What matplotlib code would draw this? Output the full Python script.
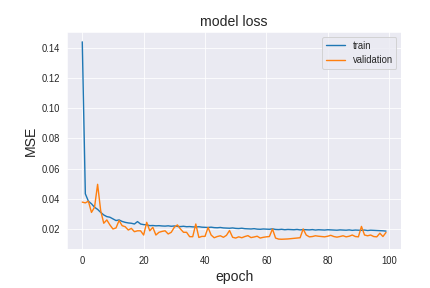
import matplotlib
matplotlib.use("Agg")
import matplotlib.pyplot as plt
import seaborn as sns

# loss per epoch
train = [0.1440, 0.0433, 0.0384, 0.0367, 0.0344, 0.0330, 0.0310, 0.0293, 0.0282, 0.0278,
         0.0267, 0.0256, 0.0260, 0.0250, 0.0244, 0.0240, 0.0238, 0.0233, 0.0249, 0.0233,
         0.0229, 0.0228, 0.0222, 0.0223, 0.0221, 0.0222, 0.0220, 0.0219, 0.0221, 0.0218,
         0.0220, 0.0217, 0.0216, 0.0218, 0.0215, 0.0216, 0.0214, 0.0213, 0.0215, 0.0212,
         0.0211, 0.0210, 0.0212, 0.0209, 0.0208, 0.0210, 0.0207, 0.0206, 0.0205, 0.0207,
         0.0204, 0.0203, 0.0205, 0.0202, 0.0201, 0.0200, 0.0202, 0.0199, 0.0198, 0.0200,
         0.0199, 0.0198, 0.0201, 0.0197, 0.0196, 0.0198, 0.0195, 0.0197, 0.0196, 0.0195,
         0.0197, 0.0194, 0.0196, 0.0195, 0.0194, 0.0196, 0.0193, 0.0195, 0.0194, 0.0193,
         0.0195, 0.0194, 0.0193, 0.0192, 0.0194, 0.0193, 0.0192, 0.0194, 0.0191, 0.0193,
         0.0192, 0.0191, 0.0193, 0.0190, 0.0192, 0.0191, 0.0190, 0.0189, 0.0188, 0.0186]
validation = [0.0378, 0.0373, 0.0384, 0.0310, 0.0344, 0.0496, 0.0322, 0.0238, 0.0260, 0.0227,
              0.0200, 0.0207, 0.0256, 0.0222, 0.0215, 0.0193, 0.0204, 0.0182, 0.0188, 0.0188,
              0.0160, 0.0244, 0.0188, 0.0211, 0.0160, 0.0178, 0.0184, 0.0188, 0.0167, 0.0178,
              0.0211, 0.0227, 0.0200, 0.0178, 0.0178, 0.0149, 0.0149, 0.0233, 0.0144, 0.0151,
              0.0151, 0.0210, 0.0160, 0.0142, 0.0150, 0.0155, 0.0145, 0.0158, 0.0190, 0.0145,
              0.0140, 0.0148, 0.0142, 0.0150, 0.0156, 0.0143, 0.0147, 0.0152, 0.0140, 0.0145,
              0.0148, 0.0150, 0.0200, 0.0140, 0.0133, 0.0132, 0.0133, 0.0134, 0.0136, 0.0138,
              0.0140, 0.0142, 0.0200, 0.0160, 0.0148, 0.0150, 0.0155, 0.0152, 0.0150, 0.0148,
              0.0152, 0.0158, 0.0150, 0.0146, 0.0150, 0.0155, 0.0148, 0.0152, 0.0160, 0.0150,
              0.0148, 0.0217, 0.0160, 0.0155, 0.0160, 0.0150, 0.0148, 0.0172, 0.0150, 0.0177]
epochs = list(range(len(train)))

sns.set_style("darkgrid")
plt.rcParams['font.family'] = ['Liberation Sans', 'DejaVu Sans']

fig, ax = plt.subplots(figsize=(430/72, 288/72), dpi=72)
ax.plot(epochs, train, label='train', linewidth=1.4)
ax.plot(epochs, validation, label='validation', linewidth=1.4)
ax.set_title('model loss', fontsize=14)
ax.set_ylabel('MSE', fontsize=14)
ax.set_xlabel('epoch', fontsize=14)
ax.tick_params(labelsize=9.5)
ax.legend(loc='upper right', fontsize=9.5)
fig.subplots_adjust(left=0.156, right=0.933, top=0.889, bottom=0.135)
fig.savefig('out.png', dpi=72)
